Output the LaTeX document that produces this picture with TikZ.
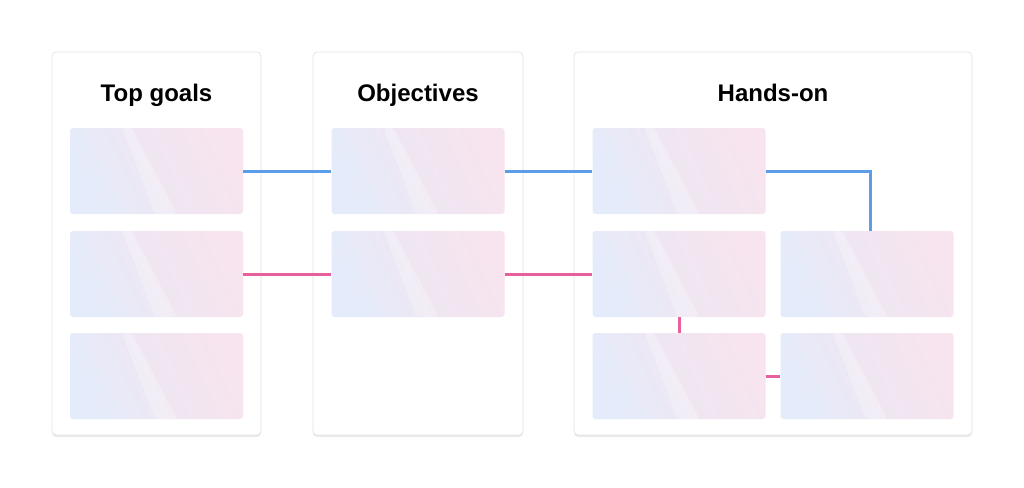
\documentclass[tikz,border=0pt]{standalone}
\usepackage{fontspec}
\setmainfont{Liberation Sans}
\usetikzlibrary{shadows}
\definecolor{cblue}{HTML}{E4ECFB}
\definecolor{cpink}{HTML}{F7E4EE}
\definecolor{cmid}{HTML}{EFE6F2}
\definecolor{lblue}{HTML}{5C9DEA}
\definecolor{lpink}{HTML}{E7609B}
\tikzset{
  panel/.style={rectangle, rounded corners=4pt, fill=white, draw=black!10, line width=0.8pt,
    drop shadow={opacity=0.18, shadow xshift=0pt, shadow yshift=-1.8pt}, inner sep=0pt},
  card/.style={rectangle, rounded corners=3pt, minimum width=173pt, minimum height=86pt, inner sep=0pt,
    top color=cpink, bottom color=cblue, middle color=cmid, shading angle=-65,
    path picture={\fill[white,opacity=0.25]
      ([xshift=52pt]path picture bounding box.north west) --
      ([xshift=62pt]path picture bounding box.north west) --
      ([xshift=107pt]path picture bounding box.south west) --
      ([xshift=85pt]path picture bounding box.south west) -- cycle;}},
  title/.style={font=\bfseries\fontsize{24}{28}\selectfont, text=black, anchor=base, inner sep=0pt},
  bl/.style={draw=lblue, line width=3pt},
  pk/.style={draw=lpink, line width=3pt}
}
\begin{document}
\begin{tikzpicture}[x=1pt,y=-1pt]
\useasboundingbox (0,0) rectangle (1024,487);
\fill[white] (0,0) rectangle (1024,487);
% panels
\node[panel, minimum width=209pt, minimum height=383pt] (p1) at (156.5,243.5) {};
\node[panel, minimum width=210pt, minimum height=383pt] (p2) at (418,243.5) {};
\node[panel, minimum width=398pt, minimum height=383pt] (p3) at (773,243.5) {};
% titles
\node[title] (t1) at (156.5,101) {Top goals};
\node[title] (t2) at (418,101) {Objectives};
\node[title] (t3) at (773,101) {Hands-on};
% cards
\node[card] (tg1) at (156.5,171) {};
\node[card] (tg2) at (156.5,274) {};
\node[card] (tg3) at (156.5,376) {};
\node[card] (ob1) at (418,171) {};
\node[card] (ob2) at (418,274) {};
\node[card] (ho1) at (679,171) {};
\node[card] (ho2) at (679,274) {};
\node[card] (ho3) at (679,376) {};
\node[card] (ho4) at (867,274) {};
\node[card] (ho5) at (867,376) {};
% connectors
\draw[bl] (tg1.east) -- (ob1.west);
\draw[bl] (ob1.east) -- (ho1.west);
\draw[bl] (ho1.east) -| ([xshift=3pt]ho4.north);
\draw[pk] (tg2.east) -- (ob2.west);
\draw[pk] (ob2.east) -- (ho2.west);
\draw[pk] (ho2.south) -- (ho3.north);
\draw[pk] (ho3.east) -- (ho5.west);
\end{tikzpicture}
\end{document}
